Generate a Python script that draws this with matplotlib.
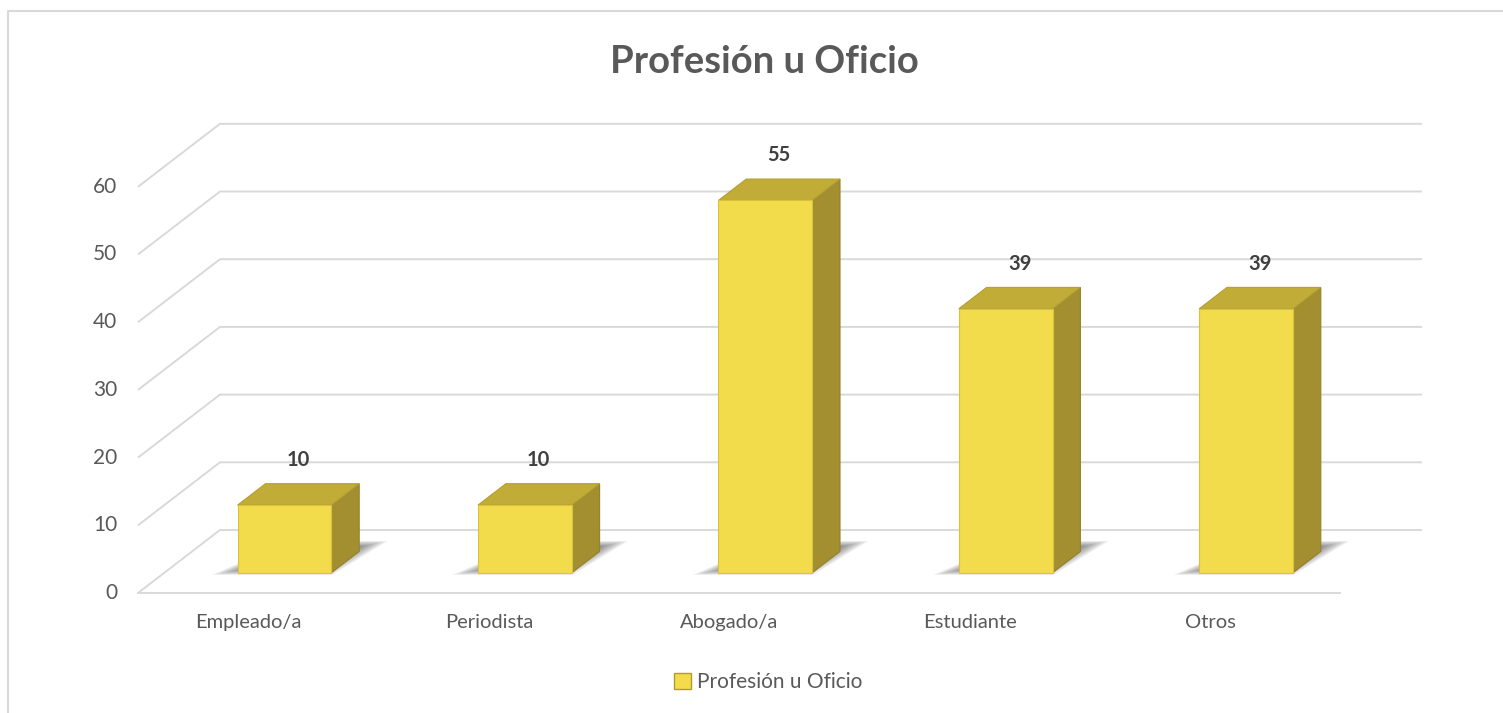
import numpy as np
import matplotlib.pyplot as plt
from matplotlib.patches import Polygon, Patch
from matplotlib.lines import Line2D

# datos
categorias = ['Empleado/a', 'Periodista', 'Abogado/a', 'Estudiante', 'Otros']
valores = [10, 10, 55, 39, 39]
ticks_y = [0, 10, 20, 30, 40, 50, 60]
titulo = 'Profesión u Oficio'

plt.rcParams['font.family'] = ['Lato', 'DejaVu Sans']

W, H = 1503, 713
fig = plt.figure(figsize=(W / 100, H / 100), dpi=100)
ax = fig.add_axes([0, 0, 1, 1])
ax.axis('off')

# escala del plano frontal (px por categoria / por unidad)
px_cat = 240.4
px_val = 6.77
x0_px, y0_px = 138, 593
ax.set_xlim(-0.5 - x0_px / px_cat, -0.5 + (W - x0_px) / px_cat)
ax.set_ylim((y0_px - H) / px_val, y0_px / px_val)

# profundidad (proyeccion oblicua)
DX = 82 / px_cat
DY = 63 / px_val

gris = '#d9d9d9'
texto = '#595959'
nc = len(categorias)
xl, xr = -0.5, nc - 0.5

# rejilla: pared lateral + pared del fondo
for v in ticks_y:
    ax.plot([xl, xl + DX, xr + DX], [v, v + DY, v + DY], color=gris, lw=1.4,
            zorder=1, solid_capstyle='butt')
    ax.annotate(str(v), (xl, v), xytext=(-15, 0), textcoords='offset points',
                ha='right', va='center', fontsize=15, color=texto)
ax.plot([xl, xr], [0, 0], color=gris, lw=1.4, zorder=1)

# barras 3D
d0, d1 = 0.32, 0.66
w = 0.39
ddx, ddy = (d1 - d0) * DX, (d1 - d0) * DY
c_front, c_side, c_top = '#F3DC4B', '#A38F2F', '#C2AC38'

for i, (cat, v) in enumerate(zip(categorias, valores)):
    xa = i - w / 2 + d0 * DX
    xb = i + w / 2 + d0 * DX
    yb = d0 * DY

    # sombra difusa en el suelo
    sh = np.array([(xa - 0.09, yb - 0.2), (xb, yb - 0.2),
                   (xb + 0.22, yb + 4.6), (xa + 0.22, yb + 4.6)])
    cen = sh.mean(axis=0)
    for k in range(10):
        s = 1.04 - k * 0.05
        ax.add_patch(Polygon(cen + (sh - cen) * s, closed=True,
                             facecolor='#2e2e2e', edgecolor='none',
                             alpha=0.09, zorder=2))

    front = [(xa, yb), (xb, yb), (xb, yb + v), (xa, yb + v)]
    side = [(xb, yb), (xb + ddx, yb + ddy), (xb + ddx, yb + ddy + v), (xb, yb + v)]
    top = [(xa, yb + v), (xb, yb + v), (xb + ddx, yb + v + ddy), (xa + ddx, yb + v + ddy)]
    ax.add_patch(Polygon(side, closed=True, facecolor=c_side, edgecolor='#948229',
                         lw=0.8, zorder=3))
    ax.add_patch(Polygon(top, closed=True, facecolor=c_top, edgecolor='#b39f32',
                         lw=0.8, zorder=3))
    ax.add_patch(Polygon(front, closed=True, facecolor=c_front, edgecolor='#d9c23c',
                         lw=0.8, zorder=3))

    ax.annotate(str(v), (xa + w / 2 + ddx / 2, yb + v + ddy), xytext=(0, 17),
                textcoords='offset points', ha='center', va='center',
                fontsize=14.5, fontweight='bold', color='#404040')
    ax.annotate(cat, (i - 0.04, 0), xytext=(0, -15), textcoords='offset points',
                ha='center', va='top', fontsize=14.5, color=texto)

# marco
fig.add_artist(Line2D([8 / W, 8 / W, 1], [0, 1 - 11 / H, 1 - 11 / H],
                      transform=fig.transFigure, color=gris, lw=1.5))

fig.text(764 / W, 1 - 62 / H, titulo, ha='center', va='center', fontsize=27.5,
         fontweight='bold', color=texto)

fig.legend(handles=[Patch(facecolor=c_front, edgecolor='#B09A2E', label=titulo)],
           loc='center', bbox_to_anchor=(768 / W, 1 - 682 / H), frameon=False,
           handlelength=0.8, handleheight=0.8, handletextpad=0.3,
           fontsize=15, labelcolor=texto)

fig.savefig('out.png', dpi=100, facecolor='white')
